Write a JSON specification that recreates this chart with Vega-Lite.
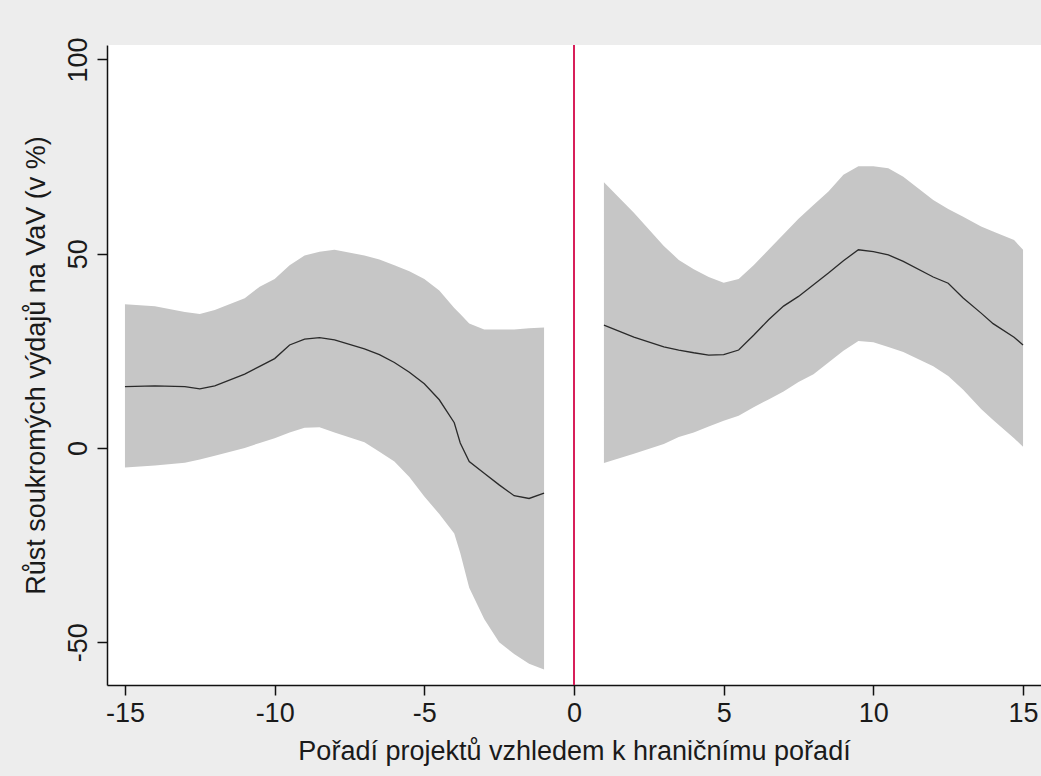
{
  "$schema": "https://vega.github.io/schema/vega-lite/v6.json",
  "width": 934,
  "height": 640,
  "autosize": {"type": "none"},
  "padding": {"left": 107, "top": 45, "right": 0, "bottom": 91},
  "background": "#ededed",
  "config": {
    "view": {"fill": "white", "stroke": null},
    "font": "Liberation Sans",
    "axis": {
      "grid": false,
      "domainColor": "#111111",
      "domainWidth": 1.5,
      "tickColor": "#111111",
      "tickWidth": 1.5,
      "tickSize": 10,
      "labelFont": "Liberation Sans",
      "labelFontSize": 27,
      "labelColor": "#1a1a1a",
      "titleFont": "Liberation Sans",
      "titleFontSize": 27,
      "titleFontWeight": "normal",
      "titleColor": "#1a1a1a"
    }
  },
  "data": {
    "values": [
      {"side": "L", "x": -15, "lo": -5, "fit": 15.8, "hi": 37},
      {"side": "L", "x": -14, "lo": -4.5, "fit": 16, "hi": 36.5},
      {"side": "L", "x": -13, "lo": -3.8, "fit": 15.8, "hi": 35},
      {"side": "L", "x": -12.5, "lo": -3, "fit": 15.2, "hi": 34.5},
      {"side": "L", "x": -12, "lo": -2, "fit": 16, "hi": 35.5},
      {"side": "L", "x": -11, "lo": 0, "fit": 19, "hi": 38.5},
      {"side": "L", "x": -10.5, "lo": 1.3, "fit": 21, "hi": 41.5},
      {"side": "L", "x": -10, "lo": 2.5, "fit": 23, "hi": 43.5},
      {"side": "L", "x": -9.5, "lo": 4, "fit": 26.5, "hi": 47},
      {"side": "L", "x": -9, "lo": 5.2, "fit": 28, "hi": 49.5},
      {"side": "L", "x": -8.5, "lo": 5.3, "fit": 28.4, "hi": 50.5},
      {"side": "L", "x": -8, "lo": 4, "fit": 27.8, "hi": 51},
      {"side": "L", "x": -7, "lo": 1.5, "fit": 25.5, "hi": 49.5},
      {"side": "L", "x": -6.5, "lo": -1, "fit": 24, "hi": 48.5},
      {"side": "L", "x": -6, "lo": -3.5, "fit": 22, "hi": 47},
      {"side": "L", "x": -5.5, "lo": -7.5, "fit": 19.5, "hi": 45.5},
      {"side": "L", "x": -5, "lo": -12.5, "fit": 16.5, "hi": 43.5},
      {"side": "L", "x": -4.5, "lo": -17, "fit": 12.4, "hi": 40.5},
      {"side": "L", "x": -4, "lo": -22, "fit": 6.5, "hi": 36},
      {"side": "L", "x": -3.8, "lo": -27, "fit": 1.3, "hi": 34.5},
      {"side": "L", "x": -3.5, "lo": -36, "fit": -3.5, "hi": 32},
      {"side": "L", "x": -3, "lo": -44, "fit": -6.5, "hi": 30.5},
      {"side": "L", "x": -2.5, "lo": -50, "fit": -9.5, "hi": 30.5},
      {"side": "L", "x": -2, "lo": -53, "fit": -12.3, "hi": 30.5},
      {"side": "L", "x": -1.5, "lo": -55.5, "fit": -13, "hi": 30.8},
      {"side": "L", "x": -1, "lo": -57, "fit": -11.6, "hi": 31},
      {"side": "R", "x": 1, "lo": -3.9, "fit": 31.6, "hi": 68.4},
      {"side": "R", "x": 2, "lo": -1.5, "fit": 28.5, "hi": 60.5},
      {"side": "R", "x": 3, "lo": 1, "fit": 26, "hi": 52},
      {"side": "R", "x": 3.5, "lo": 2.8, "fit": 25.2, "hi": 48.4},
      {"side": "R", "x": 4, "lo": 4, "fit": 24.5, "hi": 46},
      {"side": "R", "x": 4.5, "lo": 5.5, "fit": 23.9, "hi": 44},
      {"side": "R", "x": 5, "lo": 7, "fit": 24, "hi": 42.5},
      {"side": "R", "x": 5.5, "lo": 8.3, "fit": 25.2, "hi": 43.5},
      {"side": "R", "x": 6, "lo": 10.5, "fit": 29, "hi": 47},
      {"side": "R", "x": 6.5, "lo": 12.5, "fit": 33, "hi": 51},
      {"side": "R", "x": 7, "lo": 14.5, "fit": 36.5, "hi": 55},
      {"side": "R", "x": 7.5, "lo": 17, "fit": 39, "hi": 59},
      {"side": "R", "x": 8, "lo": 19, "fit": 42, "hi": 62.5},
      {"side": "R", "x": 8.5, "lo": 22, "fit": 45, "hi": 66},
      {"side": "R", "x": 9, "lo": 25, "fit": 48.2, "hi": 70.3},
      {"side": "R", "x": 9.5, "lo": 27.5, "fit": 51, "hi": 72.5},
      {"side": "R", "x": 10, "lo": 27.2, "fit": 50.5, "hi": 72.5},
      {"side": "R", "x": 10.5, "lo": 26, "fit": 49.7, "hi": 72},
      {"side": "R", "x": 11, "lo": 24.7, "fit": 48, "hi": 69.8},
      {"side": "R", "x": 12, "lo": 21, "fit": 44, "hi": 63.8},
      {"side": "R", "x": 12.5, "lo": 18.5, "fit": 42.4, "hi": 61.5},
      {"side": "R", "x": 13, "lo": 15, "fit": 38.6, "hi": 59.5},
      {"side": "R", "x": 13.6, "lo": 10, "fit": 34.7, "hi": 57},
      {"side": "R", "x": 14, "lo": 7.2, "fit": 32, "hi": 55.7},
      {"side": "R", "x": 14.7, "lo": 2.5, "fit": 28.5, "hi": 53.5},
      {"side": "R", "x": 15, "lo": 0.3, "fit": 26.5, "hi": 51}
    ]
  },
  "layer": [
    {
      "mark": {"type": "area", "color": "#c6c6c6", "opacity": 1},
      "encoding": {
        "x": {
          "field": "x", "type": "quantitative",
          "scale": {"domain": [-15.6, 15.6], "nice": false, "zero": false},
          "axis": {
            "values": [-15, -10, -5, 0, 5, 10, 15],
            "labelExpr": "'' + datum.value",
            "labelPadding": 5,
            "title": "Pořadí projektů vzhledem k hraničnímu pořadí",
            "titlePadding": 12
          }
        },
        "y": {
          "field": "lo", "type": "quantitative",
          "scale": {"domain": [-61, 103.7], "nice": false, "zero": false},
          "axis": {
            "values": [-50, 0, 50, 100],
            "labelExpr": "'' + datum.value",
            "labelAngle": -90,
            "labelAlign": "center",
            "labelBaseline": "bottom",
            "labelPadding": 5,
            "title": "Růst soukromých výdajů na VaV (v %)",
            "titlePadding": 14
          }
        },
        "y2": {"field": "hi"},
        "detail": {"field": "side"}
      }
    },
    {
      "mark": {"type": "line", "color": "#2a2a2a", "strokeWidth": 1.3},
      "encoding": {
        "x": {"field": "x", "type": "quantitative"},
        "y": {"field": "fit", "type": "quantitative"},
        "detail": {"field": "side"}
      }
    },
    {
      "mark": {"type": "rule", "color": "#d8205a", "strokeWidth": 1.6},
      "encoding": {"x": {"datum": 0}}
    }
  ]
}
